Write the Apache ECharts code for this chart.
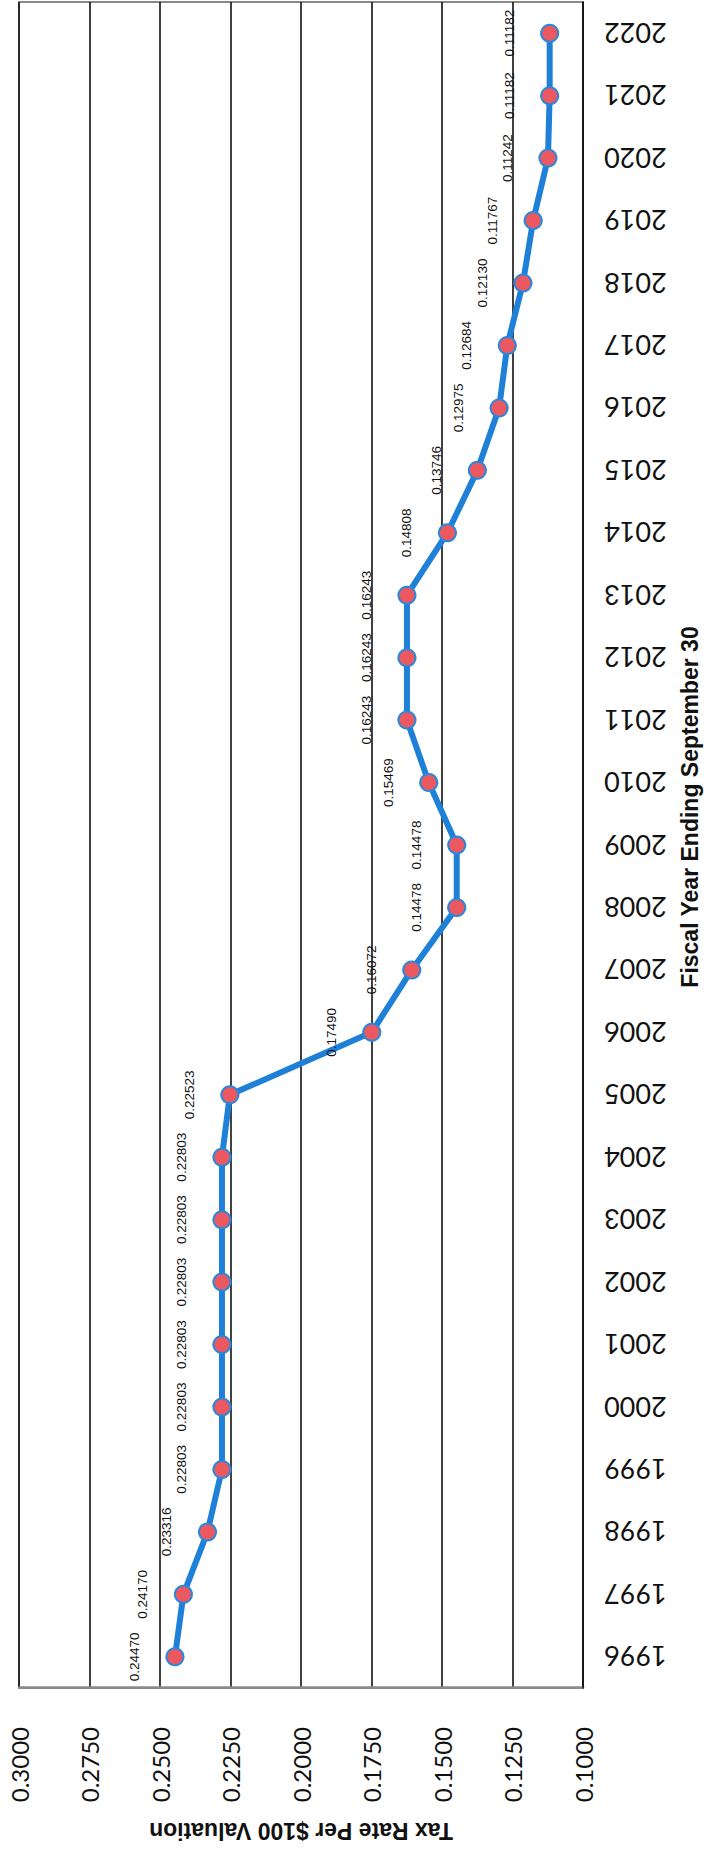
<!DOCTYPE html>
<html>
<head>
<meta charset="utf-8">
<script src="https://cdn.jsdelivr.net/npm/echarts@6/dist/echarts.min.js"></script>
<style>
  html, body { margin: 0; padding: 0; background: #fff; overflow: hidden; }
  body { width: 706px; height: 1850px; position: relative; }
  #chart {
    position: absolute; left: 0; top: 0;
    width: 1850px; height: 706px;
    transform-origin: 0 0;
    transform: translate(0px, 1850px) rotate(-90deg);
  }
</style>
</head>
<body>
<div id="chart"></div>
<script>
// ---- data ----
const years = ['1996','1997','1998','1999','2000','2001','2002','2003','2004','2005',
  '2006','2007','2008','2009','2010','2011','2012','2013','2014','2015',
  '2016','2017','2018','2019','2020','2021','2022'];
const taxRates = [0.24470, 0.24170, 0.23316, 0.22803, 0.22803, 0.22803, 0.22803, 0.22803, 0.22803, 0.22523,
  0.17490, 0.16072, 0.14478, 0.14478, 0.15469, 0.16243, 0.16243, 0.16243, 0.14808, 0.13746,
  0.12975, 0.12684, 0.12130, 0.11767, 0.11242, 0.11182, 0.11182];
const tickValues = [0.1000, 0.1250, 0.1500, 0.1750, 0.2000, 0.2250, 0.2500, 0.2750, 0.3000];
const tickLabels = ['0.1000','0.1250','0.1500','0.1750','0.2000','0.2250','0.2500','0.2750','0.3000'];
const xTitle = 'Fiscal Year Ending September 30';
const yTitle = 'Tax Rate Per $100 Valuation';

const chart = echarts.init(document.getElementById('chart'), null, { renderer: 'svg', width: 1850, height: 706 });

function tickLabel(v) {
  let best = 0, bd = Infinity;
  tickValues.forEach((t, i) => { const d = Math.abs(t - v); if (d < bd) { bd = d; best = i; } });
  return tickLabels[best];
}

chart.setOption({
  animation: false,
  backgroundColor: '#ffffff',
  grid: {
    left: 162, right: 2, top: 19, bottom: 123,
    show: true, borderColor: '#8a8a8a', borderWidth: 2, backgroundColor: 'transparent'
  },
  xAxis: {
    type: 'category',
    data: years,
    boundaryGap: true,
    axisLine: { show: true, lineStyle: { color: '#111', width: 1.5 } },
    axisTick: { show: false },
    axisLabel: { rotate: 90, margin: 21, fontFamily: 'Lato', fontSize: 27, color: '#111', interval: 0 }
  },
  yAxis: {
    type: 'value',
    min: 0.1, max: 0.3, interval: 0.025,
    name: yTitle,
    nameLocation: 'middle',
    nameGap: 131,
    nameTextStyle: { fontFamily: 'Liberation Sans', fontWeight: 'bold', fontSize: 23, color: '#111' },
    axisLine: { show: true, lineStyle: { color: '#8a8a8a', width: 2.5 } },
    axisTick: { show: false },
    axisLabel: { margin: 39, fontFamily: 'Lato', fontSize: 24, color: '#111', formatter: tickLabel },
    splitLine: { show: true, lineStyle: { color: '#111', width: 1.6 } }
  },
  graphic: [{
    type: 'text', x: 1043, y: 690,
    style: { text: xTitle, align: 'center', verticalAlign: 'middle',
      font: 'bold 23px "Liberation Sans"', fill: '#111' }
  }],
  series: [{
    type: 'line',
    data: taxRates,
    symbol: 'circle',
    symbolSize: 17,
    lineStyle: { color: '#1f80d8', width: 6 },
    itemStyle: { color: '#ec5860', borderColor: '#2a88dc', borderWidth: 2 },
    label: {
      show: true, position: 'top', distance: 24,
      fontFamily: 'Liberation Sans', fontSize: 13.5, color: '#111',
      formatter: p => p.value.toFixed(5)
    },
    z: 5
  }]
});
</script>
</body>
</html>
